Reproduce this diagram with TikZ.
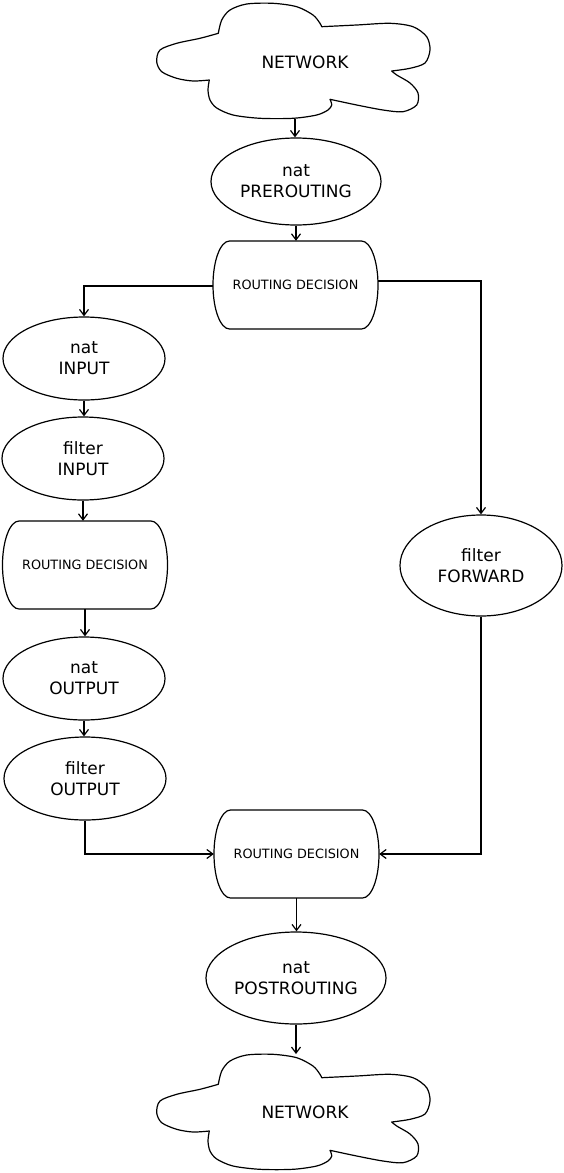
\documentclass[tikz,border=0pt]{standalone}
\usepackage{fontspec}
\setmainfont{DejaVu Sans}
\usetikzlibrary{shapes.geometric,arrows.meta}
% outline of a decision box: center x, center y (half width 82.5, half height 44, end radius 16.5)
\newcommand\rdshape[2]{%
  \draw[outl] (#1-66,#2-44) -- (#1+66,#2-44)
    .. controls (#1+75.1,#2-44) and (#1+82.5,#2-24.3) .. (#1+82.5,#2)
    .. controls (#1+82.5,#2+24.3) and (#1+75.1,#2+44) .. (#1+66,#2+44)
    -- (#1-66,#2+44)
    .. controls (#1-75.1,#2+44) and (#1-82.5,#2+24.3) .. (#1-82.5,#2)
    .. controls (#1-82.5,#2-24.3) and (#1-75.1,#2-44) .. cycle;}
\newcommand\cloudpath{%
  plot[smooth] coordinates {(218.3,33.3) (221.7,20) (230,10) (246.7,4) (273,3.3) (296.7,6.7) (313,15) (320,23.3) (321.7,26.7)}
  -- plot[smooth] coordinates {(321.7,26.7) (356.7,25) (390,23.3) (413,26.7) (426.7,36.7) (430,50) (425,63) (410,68.3) (391.7,71)}
  -- plot[smooth] coordinates {(391.7,71) (396.7,75) (410,83) (418,93) (416.7,105) (403,111.7) (383,110) (356.7,105) (330,99.3)}
  -- plot[smooth] coordinates {(330,99.3) (331.7,105) (328,110) (316.7,115) (293,118.3) (260,118.3) (233,115) (216.7,108) (210,100) (208,90) (209.3,80)}
  -- plot[smooth] coordinates {(209.3,80) (193,81) (176.7,78.3) (161.7,71.7) (156.7,61.7) (160,50) (176.7,43.3) (200,38.3) (218.3,33.3)}
  -- cycle}
\begin{document}
\begin{tikzpicture}[x=1pt,y=-1pt,
  every node/.style={font=\fontsize{17}{21}\selectfont, align=center, inner sep=0pt},
  outl/.style={draw=black, line width=1.2pt, line join=round},
  ell/.style 2 args={ellipse, outl, minimum width=#1pt, minimum height=#2pt},
  rdbox/.style={rectangle, minimum width=165pt, minimum height=88pt, font=\fontsize{12.8}{15}\selectfont},
  arr/.style={draw=black, line width=1.2pt, -{Straight Barb[length=6pt,width=9pt,line width=1.2pt]}}]
\useasboundingbox (0,0) rectangle (564,1173);
% clouds
\draw[outl] \cloudpath;
\begin{scope}[shift={(0,1051)}]
\draw[outl] \cloudpath;
\end{scope}
\node (net1) at (305,62) {NETWORK};
\node (net2) at (305,1112.5) {NETWORK};
\coordinate (net1s) at (295,118.5);
\coordinate (net2n) at (295,1054);
% nodes
\node[ell={170}{87}] (npre) at (296,181.5) {nat\\PREROUTING};
\node[rdbox] (rd1) at (295.5,285) {ROUTING DECISION};
\node[ell={162}{83}] (ni) at (84,358.5) {nat\\INPUT};
\node[ell={162}{83}] (fi) at (83,458.5) {filter\\INPUT};
\node[rdbox] (rd2) at (85,565) {ROUTING DECISION};
\node[ell={162}{83}] (no) at (84,678.5) {nat\\OUTPUT};
\node[ell={162}{83}] (fo) at (85,778.5) {filter\\OUTPUT};
\node[ell={162}{101}] (ff) at (481,565.5) {filter\\FORWARD};
\node[rdbox] (rd3) at (296.5,854) {ROUTING DECISION};
\node[ell={180}{92}] (npost) at (296,978) {nat\\POSTROUTING};
\rdshape{295.5}{285}
\rdshape{85}{565}
\rdshape{296.5}{854}
% connectors
\draw[arr] (net1s) -- (net1s |- npre.north);
\draw[arr] (npre.south) -- (npre.south |- rd1.north);
\draw[arr] ([yshift=-1pt]rd1.west) -| (ni.north);
\draw[arr] ([yshift=4pt]rd1.east) -| (ff.north);
\draw[arr] (ni.south) -- (ni.south |- fi.north);
\draw[arr] (fi.south) -- (fi.south |- rd2.north);
\draw[arr] (rd2.south) -- (rd2.south |- no.north);
\draw[arr] (no.south) -- (no.south |- fo.north);
\draw[arr] (fo.south) |- (rd3.west);
\draw[arr] (ff.south) |- (rd3.east);
\draw[arr] (rd3.south) -- (rd3.south |- npost.north);
\draw[arr] (npost.south) -- (npost.south |- net2n);
\end{tikzpicture}
\end{document}
